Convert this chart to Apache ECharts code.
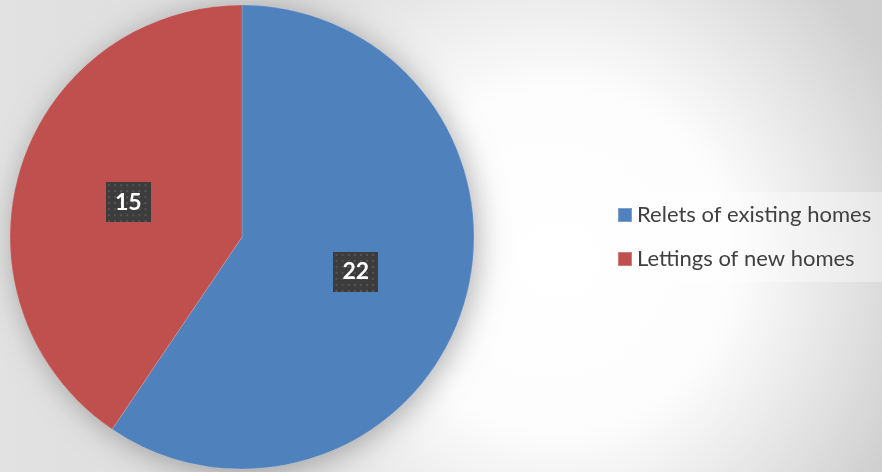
<!DOCTYPE html>
<html>
<head>
<meta charset="utf-8">
<script src="https://cdn.jsdelivr.net/npm/echarts@6/dist/echarts.min.js"></script>
<style>
  html, body { margin: 0; padding: 0; }
  #chart { width: 882px; height: 472px; }
</style>
</head>
<body>
<div id="chart"></div>
<script>
// Lettings by type of home
const categories = ['Relets of existing homes', 'Lettings of new homes'];
const values = [22, 15];
const colors = ['#4f81bd', '#c0504d'];

// Dark dotted tile used behind the value labels
function dottedTile(w, h) {
  const c = document.createElement('canvas');
  c.width = w; c.height = h;
  const g = c.getContext('2d');
  g.fillStyle = '#3c3c3c';
  g.fillRect(0, 0, w, h);
  g.fillStyle = '#555555';
  for (let y = 2; y < h; y += 6) {
    for (let x = 2; x < w; x += 6) {
      g.fillRect(x, y, 2, 2);
    }
  }
  return c;
}
const tile = dottedTile(44, 40);

const total = values.reduce((a, b) => a + b, 0);
const chart = echarts.init(document.getElementById('chart'), null, { renderer: 'canvas' });

chart.setOption({
  animation: false,
  backgroundColor: '#dcdcdc',
  graphic: [
    {
      type: 'rect', z: -10, silent: true,
      shape: { x: 0, y: 0, width: 882, height: 472 },
      style: {
        fill: {
          type: 'linear', x: 0, y: 0, x2: 1, y2: 0,
          colorStops: [
            { offset: 0, color: '#e2e2e2' },
            { offset: 1, color: '#cfcfcf' }
          ]
        }
      }
    },
    {
      type: 'rect', z: -9, silent: true,
      shape: { x: 0, y: 0, width: 882, height: 472 },
      style: {
        fill: {
          type: 'radial', x: 560, y: 260, r: 380, global: true,
          colorStops: [
            { offset: 0, color: 'rgba(255,255,255,1)' },
            { offset: 0.45, color: 'rgba(255,255,255,0.95)' },
            { offset: 1, color: 'rgba(255,255,255,0)' }
          ]
        }
      }
    }
  ],
  legend: {
    orient: 'vertical',
    left: 605,
    top: 192,
    padding: [12, 16, 12, 12],
    itemWidth: 14,
    itemHeight: 14,
    itemGap: 22,
    icon: 'rect',
    backgroundColor: 'rgba(255,255,255,0.35)',
    textStyle: { fontFamily: 'Lato', fontSize: 22, color: '#404040' },
    data: categories
  },
  series: [
    {
      // soft drop shadow under the whole pie
      type: 'pie',
      silent: true,
      center: [242, 237],
      radius: 232,
      z: 1,
      label: { show: false },
      labelLine: { show: false },
      itemStyle: {
        color: '#cccccc',
        shadowBlur: 30,
        shadowColor: 'rgba(0,0,0,0.3)',
        shadowOffsetX: 4,
        shadowOffsetY: 4
      },
      data: [{ value: total, name: 'total' }],
      legendHoverLink: false
    },
    {
      type: 'pie',
      center: [242, 237],
      radius: 232,
      startAngle: 90,
      clockwise: true,
      z: 2,
      itemStyle: { borderColor: 'rgba(255,255,255,0.25)', borderWidth: 0.6 },
      label: {
        show: true,
        position: 'inside',
        formatter: '{c}',
        fontFamily: 'Lato',
        fontWeight: 'bold',
        fontSize: 23,
        lineHeight: 24,
        color: '#ffffff',
        backgroundColor: { image: tile },
        padding: [9, 9, 7, 9],
        shadowBlur: 5,
        shadowColor: 'rgba(0,0,0,0.5)',
        shadowOffsetX: 3,
        shadowOffsetY: 3
      },
      labelLine: { show: false },
      data: categories.map((n, i) => ({ name: n, value: values[i], itemStyle: { color: colors[i] } }))
    }
  ]
});
</script>
</body>
</html>
